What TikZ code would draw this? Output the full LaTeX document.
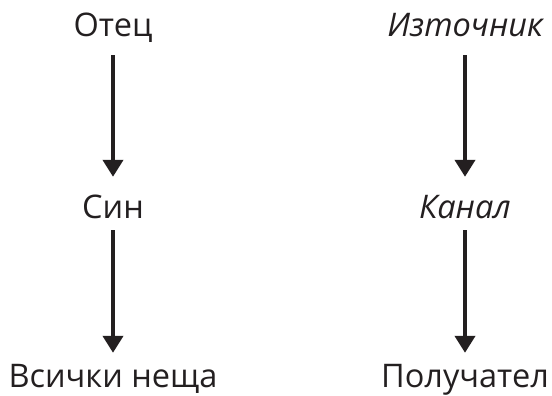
\documentclass[tikz,border=0pt]{standalone}
\usepackage{fontspec}
\setmainfont{Open Sans}
\usetikzlibrary{arrows.meta,positioning}
\definecolor{ink}{HTML}{231F20}
\begin{document}
\begin{tikzpicture}[
      x=1bp,y=-1bp,
      term/.style={anchor=base,inner sep=0pt,text=ink,text height=23bp,text depth=6bp,
                   font=\fontsize{32.5bp}{38bp}\selectfont},
      flow/.style={-{Triangle[length=17bp,width=20bp]},line width=4bp,draw=ink},
    ]
    \useasboundingbox (0,0) rectangle (552,395);

    % Left column
    \node[term] (F) at (113,36) {Отец};
    \node[term] (S) at (113,218) {Син};
    \node[term] (A) at (113,387) {Всички неща};

    % Right column
    \node[term] (Src) at (465,36) {\itshape Източник};
    \node[term] (Ch) at (465,218) {\itshape Канал};
    \node[term] (Rc) at (465,387) {Получател};

    % Arrows
    \draw[flow,shorten <=13bp,shorten >=18bp] (F.south) -- (S.north);
    \draw[flow,shorten <=6bp,shorten >=11bp] (S.south) -- (A.north);
    \draw[flow,shorten <=13bp,shorten >=18bp] (Src.south) -- (Ch.north);
    \draw[flow,shorten <=6bp,shorten >=11bp] (Ch.south) -- (Rc.north);

  \end{tikzpicture}
\end{document}
